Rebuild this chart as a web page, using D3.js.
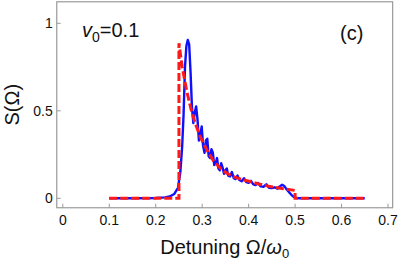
<!DOCTYPE html>
<html>
<head>
<meta charset="utf-8">
<script src="https://cdn.jsdelivr.net/npm/d3@7"></script>
<style>
  body { margin: 0; background: #fff; }
  text { font-family: "Liberation Sans", Arial, sans-serif; fill: #111; }
</style>
</head>
<body>
<div id="chart"></div>
<script>
// tick values
var xTicks = [0, 0.1, 0.2, 0.3, 0.4, 0.5, 0.6, 0.7];
var yTicks = [0, 0.5, 1];

// numerical spectrum (blue, solid)
var blueOmega = [0.10, 0.15, 0.20, 0.22, 0.23, 0.24, 0.248, 0.253, 0.257, 0.260, 0.263, 0.266, 0.269, 0.272,
  0.275, 0.278, 0.281, 0.284, 0.287, 0.290, 0.293, 0.296, 0.299, 0.302, 0.305, 0.308, 0.311, 0.314,
  0.317, 0.320, 0.323, 0.326, 0.329, 0.332, 0.335, 0.338, 0.341, 0.344, 0.347, 0.350, 0.353, 0.356,
  0.360, 0.364, 0.368, 0.372, 0.376, 0.380, 0.385, 0.390, 0.395, 0.400, 0.405, 0.410, 0.415, 0.420,
  0.426, 0.432, 0.438, 0.444, 0.450, 0.456, 0.462, 0.467, 0.472, 0.477, 0.482, 0.487, 0.492, 0.497,
  0.502, 0.51, 0.65];
var blueS = [0, 0, 0.002, 0.005, 0.01, 0.025, 0.06, 0.15, 0.3, 0.48, 0.75, 0.87, 0.905, 0.88,
  0.72, 0.52, 0.43, 0.49, 0.525, 0.45, 0.33, 0.36, 0.41, 0.30, 0.26, 0.33, 0.34, 0.24,
  0.23, 0.28, 0.26, 0.19, 0.20, 0.23, 0.17, 0.16, 0.2, 0.175, 0.14, 0.16, 0.17, 0.13,
  0.125, 0.15, 0.115, 0.11, 0.13, 0.105, 0.097, 0.115, 0.092, 0.088, 0.1, 0.08, 0.076, 0.088,
  0.068, 0.066, 0.08, 0.06, 0.058, 0.063, 0.055, 0.068, 0.077, 0.07, 0.05, 0.035, 0.02, 0.008,
  0.002, 0, 0];

// analytic spectrum (red, dashed)
var redOmega = [0.10, 0.25, 0.25, 0.257, 0.267, 0.276, 0.285, 0.2955, 0.31, 0.324, 0.339, 0.352, 0.367,
  0.385, 0.403, 0.42, 0.439, 0.468, 0.50, 0.50, 0.65];
var redS = [0, 0, 0.886, 0.75, 0.61, 0.51, 0.43, 0.353, 0.277, 0.215, 0.172, 0.145, 0.124,
  0.108, 0.096, 0.083, 0.071, 0.058, 0.045, 0, 0];

function draw() {
  var W = 399, H = 262;

  var x = d3.scaleLinear().domain([0, 0.7]).range([62.8, 388]);
  var y = d3.scaleLinear().domain([0, 1]).range([198.3, 23.3]);

  var svg = d3.select("#chart").append("svg")
    .attr("width", W)
    .attr("height", H);

  var fLeft = x(-0.013), fRight = x(0.71), fTop = y(1.123), fBottom = y(-0.054);

  // frame
  svg.append("rect")
    .attr("x", fLeft).attr("y", fTop)
    .attr("width", fRight - fLeft).attr("height", fBottom - fTop)
    .attr("fill", "none")
    .attr("stroke", "#9a9a9a")
    .attr("stroke-width", 1.2);

  // x ticks (inside)
  svg.append("g").selectAll("line")
    .data(xTicks).enter().append("line")
    .attr("x1", function(d) { return x(d); })
    .attr("x2", function(d) { return x(d); })
    .attr("y1", fBottom)
    .attr("y2", fBottom - 4)
    .attr("stroke", "#9a9a9a");

  svg.append("g").selectAll("text")
    .data(xTicks).enter().append("text")
    .attr("x", function(d) { return x(d); })
    .attr("y", fBottom + 17)
    .attr("text-anchor", "middle")
    .style("font-size", "14px")
    .text(function(d) { return d === 0 ? "0" : d3.format(".1f")(d); });

  // y ticks
  svg.append("g").selectAll("line")
    .data(yTicks).enter().append("line")
    .attr("x1", fLeft)
    .attr("x2", fLeft + 4)
    .attr("y1", function(d) { return y(d); })
    .attr("y2", function(d) { return y(d); })
    .attr("stroke", "#9a9a9a");

  svg.append("g").selectAll("text")
    .data(yTicks).enter().append("text")
    .attr("x", fLeft - 4)
    .attr("y", function(d) { return y(d) + 5; })
    .attr("text-anchor", "end")
    .style("font-size", "14px")
    .text(function(d) { return d; });

  // curves
  var line = d3.line()
    .x(function(d) { return x(d[0]); })
    .y(function(d) { return y(d[1]); });

  svg.append("path")
    .datum(d3.zip(blueOmega, blueS))
    .attr("d", line)
    .attr("fill", "none")
    .attr("stroke", "#1010ff")
    .attr("stroke-width", 2.4)
    .attr("stroke-linejoin", "round");

  svg.append("path")
    .datum(d3.zip(redOmega, redS))
    .attr("d", line)
    .attr("fill", "none")
    .attr("stroke", "#ff1a1a")
    .attr("stroke-width", 3)
    .attr("stroke-dasharray", "8,3");

  // labels
  var v0 = svg.append("text")
    .attr("x", 82)
    .attr("y", 37)
    .style("font-size", "20px");
  v0.append("tspan").style("font-style", "italic").text("v");
  v0.append("tspan").attr("dy", 5).style("font-size", "14px").text("0");
  v0.append("tspan").attr("dy", -5).text("=0.1");

  svg.append("text")
    .attr("x", 340)
    .attr("y", 40)
    .style("font-size", "20px")
    .text("(c)");

  // axis titles
  var xl = svg.append("text")
    .attr("x", (fLeft + fRight) / 2)
    .attr("y", 254)
    .attr("text-anchor", "middle")
    .style("font-size", "20px");
  xl.append("tspan").text("Detuning \u03A9/");
  xl.append("tspan").style("font-style", "italic").text("\u03C9");
  xl.append("tspan").attr("dy", 4).style("font-size", "13px").text("0");

  svg.append("text")
    .attr("transform", "translate(19," + ((fTop + fBottom) / 2) + ") rotate(-90)")
    .attr("text-anchor", "middle")
    .style("font-size", "20px")
    .text("S(\u03A9)");
}

draw();
</script>
</body>
</html>
